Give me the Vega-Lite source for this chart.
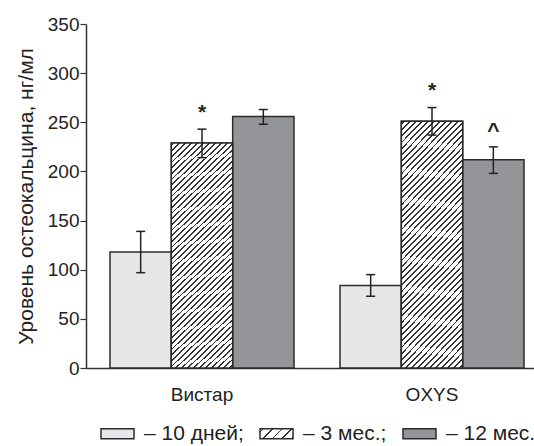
{
  "$schema": "https://vega.github.io/schema/vega-lite/v6.json",
  "width": 448,
  "height": 344,
  "autosize": {"type": "none"},
  "padding": {"left": 86, "top": 24, "right": 0, "bottom": 78},
  "background": "white",
  "config": {
    "view": {"stroke": null},
    "font": "Liberation Sans",
    "text": {"font": "Liberation Sans"}
  },
  "datasets": {
    "bars": [
      {"group": "Вистар", "period": "10 дней", "value": 118, "lo": 97, "hi": 139},
      {"group": "Вистар", "period": "3 мес.", "value": 229, "lo": 214, "hi": 243},
      {"group": "Вистар", "period": "12 мес.", "value": 256, "lo": 248, "hi": 263},
      {"group": "OXYS", "period": "10 дней", "value": 84, "lo": 73, "hi": 95},
      {"group": "OXYS", "period": "3 мес.", "value": 251, "lo": 237, "hi": 265},
      {"group": "OXYS", "period": "12 мес.", "value": 212, "lo": 198, "hi": 225}
    ],
    "notes": [
      {"group": "Вистар", "period": "3 мес.", "label": "*", "pos": 264},
      {"group": "OXYS", "period": "3 мес.", "label": "*", "pos": 286},
      {"group": "OXYS", "period": "12 мес.", "label": "^", "pos": 245}
    ]
  },
  "layer": [
    {
      "data": {"name": "bars"},
      "mark": {"type": "bar", "stroke": "#2b2b2b", "strokeWidth": 1.5},
      "encoding": {
        "x": {"field": "group", "type": "nominal", "sort": ["Вистар", "OXYS"], "title": null,
          "scale": {"paddingInner": 0.2, "paddingOuter": 0.0739, "align": 0.706},
          "axis": {"ticks": false, "labelPadding": 17, "labelFontSize": 19, "labelColor": "#222", "labelFont": "Liberation Sans", "domainColor": "#333", "domainWidth": 1.5, "labelAngle": 0, "grid": false}},
        "xOffset": {"field": "period", "type": "nominal", "sort": ["10 дней", "3 мес.", "12 мес."], "scale": {"paddingInner": 0, "paddingOuter": 0}},
        "y": {"field": "value", "type": "quantitative", "title": "Уровень остеокальцина, нг/мл",
          "scale": {"domain": [0, 350], "nice": false},
          "axis": {"values": [0, 25, 50, 75, 100, 125, 150, 175, 200, 225, 250, 275, 300, 325, 350],
            "labelExpr": "datum.value % 50 === 0 ? datum.label : ''", "labelOverlap": false,
            "tickSize": 6, "labelPadding": 1, "domainColor": "#333", "domainWidth": 1.5, "tickColor": "#333", "tickWidth": 1.2,
            "labelFontSize": 19, "labelColor": "#222", "labelFont": "Liberation Sans",
            "titleFontSize": 21, "titleFontWeight": "normal", "titleColor": "#222", "titleFont": "Liberation Sans", "titlePadding": 11, "grid": false,
            "encode": {"ticks": {"x2": {"value": 6}}}}},
        "color": {"field": "period", "type": "nominal",
          "scale": {"domain": ["10 дней", "3 мес.", "12 мес."], "range": ["#e6e7e8",
            {"expr": "{gradient: 'linear', x1: 0, y1: 0, x2: 1.196, y2: 0.359, stops: [{offset: 0, color: '#fff'}, {offset: 0.06, color: '#fff'}, {offset: 0.06, color: '#333'}, {offset: 0.095, color: '#333'}, {offset: 0.095, color: '#fff'}, {offset: 0.28, color: '#fff'}, {offset: 0.28, color: '#333'}, {offset: 0.315, color: '#333'}, {offset: 0.315, color: '#fff'}, {offset: 0.5, color: '#fff'}, {offset: 0.5, color: '#333'}, {offset: 0.535, color: '#333'}, {offset: 0.535, color: '#fff'}, {offset: 0.72, color: '#fff'}, {offset: 0.72, color: '#333'}, {offset: 0.755, color: '#333'}, {offset: 0.755, color: '#fff'}, {offset: 0.94, color: '#fff'}, {offset: 0.94, color: '#333'}, {offset: 0.975, color: '#333'}, {offset: 0.975, color: '#fff'}, {offset: 1, color: '#fff'}]}"},
            "#939598"]},
          "legend": {"orient": "none", "legendX": 14, "legendY": 392, "direction": "horizontal", "title": null, "padding": 0,
            "symbolType": "M-1,-0.3H1V0.3H-1Z", "symbolSize": 1089, "symbolStrokeColor": "#2b2b2b", "symbolStrokeWidth": 1.5, "symbolOpacity": 1,
            "labelFontSize": 21, "labelColor": "#222", "labelFont": "Liberation Sans", "labelOffset": 9, "columnPadding": 13, "labelLimit": 0,
            "labelExpr": "datum.value === '12 мес.' ? '– 12 мес.' : '– ' + datum.value + ';'"}}
      }
    },
    {
      "data": {"name": "bars"},
      "transform": [{"filter": "datum.period === '3 мес.'"}],
      "mark": {"type": "bar", "stroke": "#2b2b2b", "strokeWidth": 1.5,
        "fill": {"gradient": "linear", "x1": 0, "y1": 0, "x2": 0.305, "y2": 1.18, "stops": [
          {"offset":0.006,"color":"#fff"},{"offset":0.006,"color":"#333"},{"offset":0.012,"color":"#333"},{"offset":0.012,"color":"#fff"},
          {"offset":0.026,"color":"#fff"},{"offset":0.026,"color":"#333"},{"offset":0.032,"color":"#333"},{"offset":0.032,"color":"#fff"},
          {"offset":0.046,"color":"#fff"},{"offset":0.046,"color":"#333"},{"offset":0.052,"color":"#333"},{"offset":0.052,"color":"#fff"},
          {"offset":0.066,"color":"#fff"},{"offset":0.066,"color":"#333"},{"offset":0.072,"color":"#333"},{"offset":0.072,"color":"#fff"},
          {"offset":0.086,"color":"#fff"},{"offset":0.086,"color":"#333"},{"offset":0.092,"color":"#333"},{"offset":0.092,"color":"#fff"},
          {"offset":0.106,"color":"#fff"},{"offset":0.106,"color":"#333"},{"offset":0.112,"color":"#333"},{"offset":0.112,"color":"#fff"},
          {"offset":0.126,"color":"#fff"},{"offset":0.126,"color":"#333"},{"offset":0.132,"color":"#333"},{"offset":0.132,"color":"#fff"},
          {"offset":0.146,"color":"#fff"},{"offset":0.146,"color":"#333"},{"offset":0.152,"color":"#333"},{"offset":0.152,"color":"#fff"},
          {"offset":0.166,"color":"#fff"},{"offset":0.166,"color":"#333"},{"offset":0.172,"color":"#333"},{"offset":0.172,"color":"#fff"},
          {"offset":0.186,"color":"#fff"},{"offset":0.186,"color":"#333"},{"offset":0.192,"color":"#333"},{"offset":0.192,"color":"#fff"},
          {"offset":0.206,"color":"#fff"},{"offset":0.206,"color":"#333"},{"offset":0.212,"color":"#333"},{"offset":0.212,"color":"#fff"},
          {"offset":0.226,"color":"#fff"},{"offset":0.226,"color":"#333"},{"offset":0.232,"color":"#333"},{"offset":0.232,"color":"#fff"},
          {"offset":0.246,"color":"#fff"},{"offset":0.246,"color":"#333"},{"offset":0.252,"color":"#333"},{"offset":0.252,"color":"#fff"},
          {"offset":0.266,"color":"#fff"},{"offset":0.266,"color":"#333"},{"offset":0.272,"color":"#333"},{"offset":0.272,"color":"#fff"},
          {"offset":0.286,"color":"#fff"},{"offset":0.286,"color":"#333"},{"offset":0.292,"color":"#333"},{"offset":0.292,"color":"#fff"},
          {"offset":0.306,"color":"#fff"},{"offset":0.306,"color":"#333"},{"offset":0.312,"color":"#333"},{"offset":0.312,"color":"#fff"},
          {"offset":0.326,"color":"#fff"},{"offset":0.326,"color":"#333"},{"offset":0.332,"color":"#333"},{"offset":0.332,"color":"#fff"},
          {"offset":0.346,"color":"#fff"},{"offset":0.346,"color":"#333"},{"offset":0.352,"color":"#333"},{"offset":0.352,"color":"#fff"},
          {"offset":0.366,"color":"#fff"},{"offset":0.366,"color":"#333"},{"offset":0.372,"color":"#333"},{"offset":0.372,"color":"#fff"},
          {"offset":0.386,"color":"#fff"},{"offset":0.386,"color":"#333"},{"offset":0.392,"color":"#333"},{"offset":0.392,"color":"#fff"},
          {"offset":0.406,"color":"#fff"},{"offset":0.406,"color":"#333"},{"offset":0.412,"color":"#333"},{"offset":0.412,"color":"#fff"},
          {"offset":0.426,"color":"#fff"},{"offset":0.426,"color":"#333"},{"offset":0.432,"color":"#333"},{"offset":0.432,"color":"#fff"},
          {"offset":0.446,"color":"#fff"},{"offset":0.446,"color":"#333"},{"offset":0.452,"color":"#333"},{"offset":0.452,"color":"#fff"},
          {"offset":0.466,"color":"#fff"},{"offset":0.466,"color":"#333"},{"offset":0.472,"color":"#333"},{"offset":0.472,"color":"#fff"},
          {"offset":0.486,"color":"#fff"},{"offset":0.486,"color":"#333"},{"offset":0.492,"color":"#333"},{"offset":0.492,"color":"#fff"},
          {"offset":0.506,"color":"#fff"},{"offset":0.506,"color":"#333"},{"offset":0.512,"color":"#333"},{"offset":0.512,"color":"#fff"},
          {"offset":0.526,"color":"#fff"},{"offset":0.526,"color":"#333"},{"offset":0.532,"color":"#333"},{"offset":0.532,"color":"#fff"},
          {"offset":0.546,"color":"#fff"},{"offset":0.546,"color":"#333"},{"offset":0.552,"color":"#333"},{"offset":0.552,"color":"#fff"},
          {"offset":0.566,"color":"#fff"},{"offset":0.566,"color":"#333"},{"offset":0.572,"color":"#333"},{"offset":0.572,"color":"#fff"},
          {"offset":0.586,"color":"#fff"},{"offset":0.586,"color":"#333"},{"offset":0.592,"color":"#333"},{"offset":0.592,"color":"#fff"},
          {"offset":0.606,"color":"#fff"},{"offset":0.606,"color":"#333"},{"offset":0.612,"color":"#333"},{"offset":0.612,"color":"#fff"},
          {"offset":0.626,"color":"#fff"},{"offset":0.626,"color":"#333"},{"offset":0.632,"color":"#333"},{"offset":0.632,"color":"#fff"},
          {"offset":0.646,"color":"#fff"},{"offset":0.646,"color":"#333"},{"offset":0.652,"color":"#333"},{"offset":0.652,"color":"#fff"},
          {"offset":0.666,"color":"#fff"},{"offset":0.666,"color":"#333"},{"offset":0.672,"color":"#333"},{"offset":0.672,"color":"#fff"},
          {"offset":0.686,"color":"#fff"},{"offset":0.686,"color":"#333"},{"offset":0.692,"color":"#333"},{"offset":0.692,"color":"#fff"},
          {"offset":0.706,"color":"#fff"},{"offset":0.706,"color":"#333"},{"offset":0.712,"color":"#333"},{"offset":0.712,"color":"#fff"},
          {"offset":0.726,"color":"#fff"},{"offset":0.726,"color":"#333"},{"offset":0.732,"color":"#333"},{"offset":0.732,"color":"#fff"},
          {"offset":0.746,"color":"#fff"},{"offset":0.746,"color":"#333"},{"offset":0.752,"color":"#333"},{"offset":0.752,"color":"#fff"},
          {"offset":0.766,"color":"#fff"},{"offset":0.766,"color":"#333"},{"offset":0.772,"color":"#333"},{"offset":0.772,"color":"#fff"},
          {"offset":0.786,"color":"#fff"},{"offset":0.786,"color":"#333"},{"offset":0.792,"color":"#333"},{"offset":0.792,"color":"#fff"},
          {"offset":0.806,"color":"#fff"},{"offset":0.806,"color":"#333"},{"offset":0.812,"color":"#333"},{"offset":0.812,"color":"#fff"},
          {"offset":0.826,"color":"#fff"},{"offset":0.826,"color":"#333"},{"offset":0.832,"color":"#333"},{"offset":0.832,"color":"#fff"},
          {"offset":0.846,"color":"#fff"},{"offset":0.846,"color":"#333"},{"offset":0.852,"color":"#333"},{"offset":0.852,"color":"#fff"},
          {"offset":0.866,"color":"#fff"},{"offset":0.866,"color":"#333"},{"offset":0.872,"color":"#333"},{"offset":0.872,"color":"#fff"},
          {"offset":0.886,"color":"#fff"},{"offset":0.886,"color":"#333"},{"offset":0.892,"color":"#333"},{"offset":0.892,"color":"#fff"},
          {"offset":0.906,"color":"#fff"},{"offset":0.906,"color":"#333"},{"offset":0.912,"color":"#333"},{"offset":0.912,"color":"#fff"},
          {"offset":0.926,"color":"#fff"},{"offset":0.926,"color":"#333"},{"offset":0.932,"color":"#333"},{"offset":0.932,"color":"#fff"},
          {"offset":0.946,"color":"#fff"},{"offset":0.946,"color":"#333"},{"offset":0.952,"color":"#333"},{"offset":0.952,"color":"#fff"},
          {"offset":0.966,"color":"#fff"},{"offset":0.966,"color":"#333"},{"offset":0.972,"color":"#333"},{"offset":0.972,"color":"#fff"},
          {"offset":0.986,"color":"#fff"},{"offset":0.986,"color":"#333"},{"offset":0.992,"color":"#333"},{"offset":0.992,"color":"#fff"}
        ]}},
      "encoding": {
        "x": {"field": "group", "type": "nominal", "sort": ["Вистар", "OXYS"], "title": null},
        "xOffset": {"field": "period", "type": "nominal", "sort": ["10 дней", "3 мес.", "12 мес."]},
        "y": {"field": "value", "type": "quantitative", "title": "Уровень остеокальцина, нг/мл"}
      }
    },
    {
      "data": {"name": "bars"},
      "mark": {"type": "rule", "stroke": "#222", "strokeWidth": 1.5},
      "encoding": {
        "x": {"field": "group", "type": "nominal", "sort": ["Вистар", "OXYS"], "title": null},
        "xOffset": {"field": "period", "type": "nominal", "sort": ["10 дней", "3 мес.", "12 мес."]},
        "y": {"field": "lo", "type": "quantitative", "title": "Уровень остеокальцина, нг/мл"},
        "y2": {"field": "hi"}
      }
    },
    {
      "data": {"name": "bars"},
      "mark": {"type": "tick", "color": "#222", "thickness": 1.5, "size": 9, "opacity": 1},
      "encoding": {
        "x": {"field": "group", "type": "nominal", "sort": ["Вистар", "OXYS"], "title": null},
        "xOffset": {"field": "period", "type": "nominal", "sort": ["10 дней", "3 мес.", "12 мес."]},
        "y": {"field": "lo", "type": "quantitative", "title": "Уровень остеокальцина, нг/мл"}
      }
    },
    {
      "data": {"name": "bars"},
      "mark": {"type": "tick", "color": "#222", "thickness": 1.5, "size": 9, "opacity": 1},
      "encoding": {
        "x": {"field": "group", "type": "nominal", "sort": ["Вистар", "OXYS"], "title": null},
        "xOffset": {"field": "period", "type": "nominal", "sort": ["10 дней", "3 мес.", "12 мес."]},
        "y": {"field": "hi", "type": "quantitative", "title": "Уровень остеокальцина, нг/мл"}
      }
    },
    {
      "data": {"name": "notes"},
      "mark": {"type": "text", "fontWeight": "bold", "fontSize": 21, "color": "#222", "baseline": "middle", "dy": 4},
      "encoding": {
        "x": {"field": "group", "type": "nominal", "sort": ["Вистар", "OXYS"], "title": null},
        "xOffset": {"field": "period", "type": "nominal", "sort": ["10 дней", "3 мес.", "12 мес."]},
        "y": {"field": "pos", "type": "quantitative", "title": "Уровень остеокальцина, нг/мл"},
        "text": {"field": "label"}
      }
    }
  ]
}
